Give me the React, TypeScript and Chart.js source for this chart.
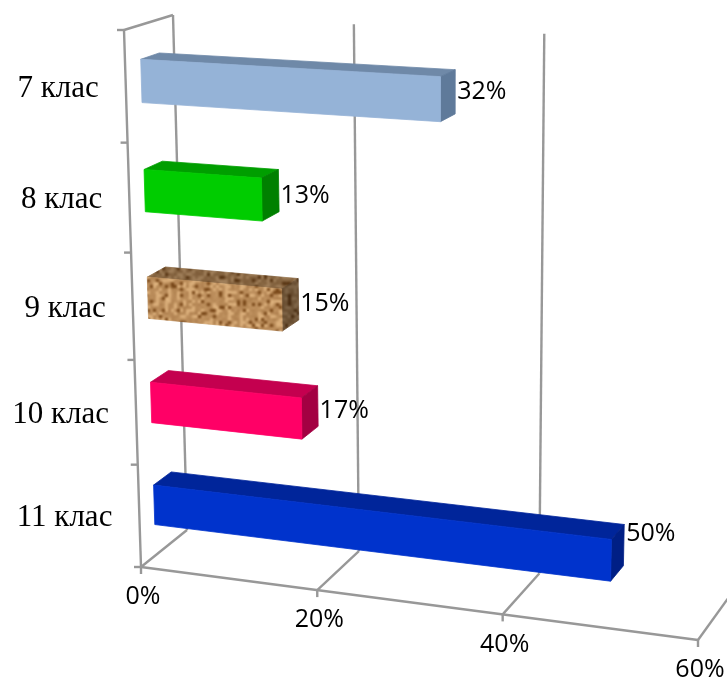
import React, { useEffect, useRef } from "react";
import { Chart, registerables } from "chart.js";

Chart.register(...registerables);

const categories = ["7 клас", "8 клас", "9 клас", "10 клас", "11 клас"];
const values = [32, 13, 15, 17, 50];
const xTicks = [0, 20, 40, 60];
const frontColors = ["#95B3D7", "#00CC00", "#C2935E", "#FF0066", "#0033CC"];
const topColors = ["#6F89A8", "#009E00", "#8A6238", "#C4004F", "#00259A"];
const sideColors = ["#5F7A9A", "#008000", "#6E4E2E", "#A30042", "#001F85"];
const labelNudgeY = [0, 5, 5, 5, -11];

type Pt = [number, number];

// corners of the projected box: top-left, top-right, bottom-right, bottom-left
const FRONT_QUAD: Pt[] = [[124, 30], [717, 62], [698, 640], [141, 567]];
const BACK_QUAD: Pt[] = [[173, 15], [745, 44], [729, 597], [187, 530]];
const BAR_D0 = 0.32;
const BAR_D1 = 0.7;

function quadMap(q: Pt[]) {
  const [[x0, y0], [x1, y1], [x2, y2], [x3, y3]] = q;
  const dx1 = x1 - x2, dx2 = x3 - x2, sx = x0 - x1 + x2 - x3;
  const dy1 = y1 - y2, dy2 = y3 - y2, sy = y0 - y1 + y2 - y3;
  const den = dx1 * dy2 - dx2 * dy1;
  const g = (sx * dy2 - dx2 * sy) / den;
  const h = (dx1 * sy - sx * dy1) / den;
  const a = x1 - x0 + g * x1, b = x3 - x0 + h * x3, c = x0;
  const d = y1 - y0 + g * y1, e = y3 - y0 + h * y3, f = y0;
  return (u: number, v: number): Pt => {
    const w = g * u + h * v + 1;
    return [(a * u + b * v + c) / w, (d * u + e * v + f) / w];
  };
}
const frontMap = quadMap(FRONT_QUAD);
const backMap = quadMap(BACK_QUAD);
function project(u: number, v: number, d: number): Pt {
  const f = frontMap(u, v), b = backMap(u, v);
  return [f[0] + (b[0] - f[0]) * d, f[1] + (b[1] - f[1]) * d];
}

function corkPattern(ctx: CanvasRenderingContext2D, shade: number) {
  const small = document.createElement("canvas");
  small.width = 160; small.height = 80;
  const s = small.getContext("2d")!;
  const img = s.createImageData(160, 80);
  for (let y = 0; y < 80; y++) {
    for (let x = 0; x < 160; x++) {
      const h = Math.sin(x * 12.9898 + y * 78.233) * 43758.5453;
      const n = h - Math.floor(h);
      const t = n < 0.12 ? -62 : n > 0.72 ? 30 : (n - 0.5) * 24;
      const i = (y * 160 + x) * 4;
      img.data[i] = (186 + t) * shade;
      img.data[i + 1] = (140 + t * 1.05) * shade;
      img.data[i + 2] = (90 + t) * shade;
      img.data[i + 3] = 255;
    }
  }
  s.putImageData(img, 0, 0);
  const big = document.createElement("canvas");
  big.width = 480; big.height = 240;
  const b = big.getContext("2d")!;
  b.imageSmoothingEnabled = true;
  b.imageSmoothingQuality = "high";
  b.drawImage(small, 0, 0, 480, 240);
  return ctx.createPattern(big, "repeat")!;
}

const box3d = {
  id: "box3d",
  beforeDatasetDraw() {
    return false;
  },
  beforeDatasetsDraw(chart: any) {
    const { ctx, chartArea: ca, scales } = chart;
    const U = (px: number) => (px - ca.left) / (ca.right - ca.left);
    const V = (py: number) => (py - ca.top) / (ca.bottom - ca.top);
    const line = (a: Pt, b: Pt) => {
      ctx.beginPath();
      ctx.moveTo(a[0], a[1]);
      ctx.lineTo(b[0], b[1]);
      ctx.stroke();
    };
    ctx.save();
    ctx.strokeStyle = "#989898";
    ctx.lineWidth = 2.4;
    // back wall and floor lines
    xTicks.forEach((t) => {
      const u = U(scales.x.getPixelForValue(t));
      line(backMap(u, 0), backMap(u, 1));
      line(frontMap(u, 1), backMap(u, 1));
      const p = frontMap(u, 1);
      line(p, [p[0], p[1] + 7]);
    });
    line(frontMap(0, 1), frontMap(1, 1));
    line(frontMap(0, 0), frontMap(0, 1));
    line(frontMap(0, 0), backMap(0, 0));
    // category boundary ticks
    for (let i = 0; i <= categories.length; i++) {
      const p = frontMap(0, i / categories.length);
      line(p, [p[0] - 7, p[1]]);
    }
    ctx.restore();

    // tick text
    ctx.save();
    ctx.fillStyle = "#000";
    ctx.textBaseline = "middle";
    ctx.textAlign = "center";
    ctx.font = "25px 'Open Sans'";
    xTicks.forEach((t) => {
      const p = frontMap(U(scales.x.getPixelForValue(t)), 1);
      ctx.fillText(`${t}%`, p[0] + 2, p[1] + 30);
    });
    ctx.textAlign = "right";
    ctx.font = "31px 'Liberation Serif'";
    categories.forEach((c, i) => {
      const p = frontMap(0, V(scales.y.getPixelForValue(i)));
      ctx.fillText(c, p[0] - 27, p[1] + 2);
    });
    ctx.restore();

    // bars
    const meta = chart.getDatasetMeta(0);
    const ds = chart.data.datasets[0];
    meta.data.forEach((el: any, i: number) => {
      const { x, y, base, height } = el.getProps(["x", "y", "base", "height"], true);
      const u0 = U(base), u1 = U(x);
      const v0 = V(y - height / 2), v1 = V(y + height / 2);
      const poly = (pts: Pt[], fill: any) => {
        ctx.beginPath();
        pts.forEach((p, k) => (k ? ctx.lineTo(p[0], p[1]) : ctx.moveTo(p[0], p[1])));
        ctx.closePath();
        ctx.fillStyle = fill;
        ctx.strokeStyle = fill;
        ctx.lineWidth = 0.8;
        ctx.fill();
        ctx.stroke();
      };
      const isCork = i === 2;
      const top = [project(u0, v0, BAR_D0), project(u1, v0, BAR_D0), project(u1, v0, BAR_D1), project(u0, v0, BAR_D1)];
      const side = [project(u1, v0, BAR_D0), project(u1, v1, BAR_D0), project(u1, v1, BAR_D1), project(u1, v0, BAR_D1)];
      const front = [project(u0, v0, BAR_D0), project(u1, v0, BAR_D0), project(u1, v1, BAR_D0), project(u0, v1, BAR_D0)];
      poly(top, isCork ? corkPattern(ctx, 0.72) : topColors[i]);
      poly(side, isCork ? corkPattern(ctx, 0.58) : sideColors[i]);
      poly(front, isCork ? corkPattern(ctx, 1) : ds.backgroundColor[i]);

      const a = project(u1, v0, BAR_D1), b = project(u1, v1, BAR_D1);
      ctx.save();
      ctx.fillStyle = "#000";
      ctx.font = "25px 'Open Sans'";
      ctx.textAlign = "left";
      ctx.textBaseline = "middle";
      ctx.fillText(`${values[i]}%`, a[0] + 2, (a[1] + b[1]) / 2 + labelNudgeY[i]);
      ctx.restore();
    });
  },
};

export default function App() {
  const ref = useRef<HTMLCanvasElement>(null);
  useEffect(() => {
    const chart = new Chart(ref.current!, {
      type: "bar",
      data: {
        labels: categories,
        datasets: [{ data: values, backgroundColor: frontColors, categoryPercentage: 1, barPercentage: 0.39 }],
      },
      options: {
        indexAxis: "y",
        animation: false,
        responsive: false,
        layout: { padding: 0 },
        plugins: { legend: { display: false }, tooltip: { enabled: false } },
        scales: {
          x: { display: false, min: 0, max: 60, offset: false },
          y: { display: false },
        },
      },
      plugins: [box3d],
    } as any);
    return () => chart.destroy();
  }, []);
  return (
    <div style={{ position: "absolute", left: 0, top: 0, width: 727, height: 682, background: "#fff" }}>
      <canvas ref={ref} width={727} height={682} style={{ display: "block" }} />
    </div>
  );
}
